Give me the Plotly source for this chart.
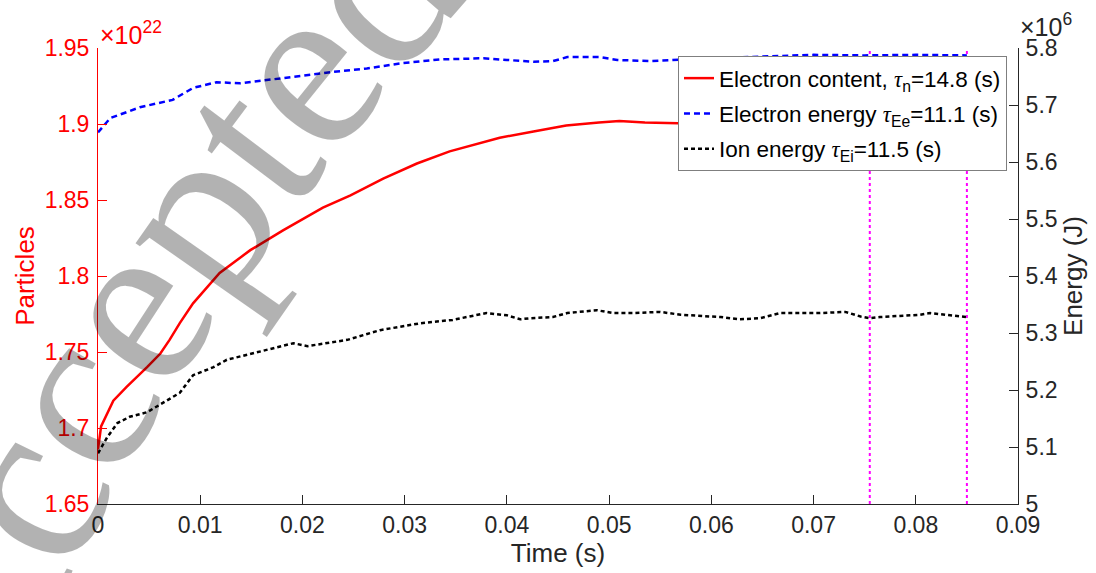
import math
import plotly.graph_objects as go

# ---- data ----
# Electron content (x1e22 particles)
t_ne = [0, 0.0003, 0.0015, 0.0028, 0.0048, 0.0061, 0.007, 0.008, 0.0093, 0.0113,
        0.0119, 0.0149, 0.0181, 0.022, 0.0247, 0.0279, 0.0312, 0.0344, 0.0361,
        0.0393, 0.0426, 0.0458, 0.049, 0.051, 0.0535, 0.0557, 0.06, 0.065, 0.07,
        0.075, 0.08, 0.085]
ne = [1.686, 1.701, 1.718, 1.727, 1.740, 1.749, 1.758, 1.769, 1.782, 1.797,
      1.802, 1.817, 1.830, 1.845, 1.853, 1.864, 1.874, 1.882, 1.885,
      1.891, 1.895, 1.899, 1.901, 1.902, 1.901, 1.9005, 1.900, 1.899, 1.899,
      1.898, 1.898, 1.898]

# Electron energy (x1e6 J)
t_we = [0, 0.0012, 0.0041, 0.0073, 0.0093, 0.0116, 0.0139, 0.0165, 0.0195,
        0.023, 0.0263, 0.0296, 0.0335, 0.0377, 0.04, 0.0426, 0.0445, 0.0459,
        0.0491, 0.0508, 0.054, 0.0563, 0.06, 0.065, 0.07, 0.075, 0.08, 0.085]
we = [5.652, 5.677, 5.696, 5.709, 5.730, 5.740, 5.738, 5.744, 5.751,
      5.758, 5.764, 5.773, 5.780, 5.782, 5.779, 5.776, 5.777, 5.784,
      5.784, 5.779, 5.777, 5.779, 5.782, 5.785, 5.788, 5.787, 5.788, 5.787]

# Ion energy (x1e6 J)
t_wi = [0, 0.0009, 0.0019, 0.0031, 0.0048, 0.0067, 0.008, 0.0093, 0.0113, 0.0126,
        0.0152, 0.0191, 0.0205, 0.023, 0.0244, 0.0276, 0.0315, 0.0347, 0.038,
        0.040, 0.0413, 0.0423, 0.0445, 0.0459, 0.0488, 0.0504, 0.0523, 0.055,
        0.057, 0.0609, 0.0628, 0.0648, 0.0667, 0.0706, 0.0731, 0.0746, 0.0755,
        0.0765, 0.0804, 0.0814, 0.0843, 0.085]
wi = [5.089, 5.117, 5.142, 5.153, 5.161, 5.182, 5.195, 5.226, 5.240, 5.253,
      5.265, 5.282, 5.277, 5.284, 5.288, 5.305, 5.317, 5.323, 5.335,
      5.331, 5.324, 5.326, 5.328, 5.335, 5.340, 5.335, 5.335, 5.337,
      5.332, 5.328, 5.324, 5.326, 5.335, 5.335, 5.337, 5.329, 5.326,
      5.328, 5.332, 5.335, 5.330, 5.328]

# analysis window markers
t_marks = [0.0755, 0.085]

TAU = '<span style="font-family:Liberation Serif"><i>τ</i></span>'
names = [
    'Electron content, ' + TAU + '<sub>n</sub>=14.8 (s)',
    'Electron energy ' + TAU + '<sub>Ee</sub>=11.1 (s)',
    'Ion energy ' + TAU + '<sub>Ei</sub>=11.5 (s)',
]

FONT = "Liberation Sans, Arial, sans-serif"
DARK = "#262626"
RED = "#ff0000"

fig = go.Figure()

fig.add_trace(go.Scatter(x=t_ne, y=ne, mode="lines", name=names[0],
                         line=dict(color=RED, width=2.5), yaxis="y",
                         legendgroup="a"))
fig.add_trace(go.Scatter(x=t_we, y=we, mode="lines", name=names[1],
                         line=dict(color="#0000ff", width=2.5, dash="6px,4px"),
                         yaxis="y2", legendgroup="b"))
fig.add_trace(go.Scatter(x=t_wi, y=wi, mode="lines", name=names[2],
                         line=dict(color="#000000", width=2.5, dash="4px,3px"),
                         yaxis="y2", legendgroup="c"))
for tm in t_marks:
    fig.add_trace(go.Scatter(x=[tm, tm], y=[1.65, 1.95], mode="lines",
                             line=dict(color="#ff00ff", width=2, dash="dot"),
                             yaxis="y", showlegend=False, hoverinfo="skip"))

L, R, T, B = 98, 78, 48, 69
W, H = 1096, 573
PW, PH = W - L - R, H - T - B

fig.update_layout(
    width=W, height=H,
    margin=dict(l=L, r=R, t=T, b=B, autoexpand=False),
    paper_bgcolor="white", plot_bgcolor="white",
    font=dict(family=FONT, size=23, color=DARK),
    xaxis=dict(range=[0, 0.09], dtick=0.01, tick0=0, ticks="inside", ticklen=9,
               tickcolor=DARK, showline=True, linecolor=DARK, linewidth=1,
               showgrid=False, zeroline=False, automargin=False,
               tickfont=dict(size=23, color=DARK),
               title=dict(text="Time (s)", font=dict(size=26, color=DARK), standoff=2)),
    yaxis=dict(range=[1.65, 1.95], dtick=0.05, tick0=1.65, ticks="inside", ticklen=9,
               tickcolor=RED, showline=True, linecolor=RED, linewidth=1,
               showgrid=False, zeroline=False, automargin=False,
               ticklabelstandoff=3,
               tickfont=dict(size=23, color=RED),
               title=dict(text="Particles", font=dict(size=26, color=RED), standoff=2)),
    yaxis2=dict(range=[5, 5.8], dtick=0.1, tick0=5, ticks="inside", ticklen=9,
                tickcolor=DARK, showline=True, linecolor=DARK, linewidth=1,
                showgrid=False, zeroline=False, overlaying="y", side="right",
                automargin=False, ticklabelstandoff=2,
                tickfont=dict(size=23, color=DARK),
                title=dict(text="Energy (J)", font=dict(size=26, color=DARK), standoff=6)),
    legend=dict(x=(678 - L) / PW, y=(H - B - 56) / PH, xanchor="left", yanchor="top",
                bgcolor="white", bordercolor="#7f7f7f", borderwidth=1,
                font=dict(family=FONT, size=22.5, color="#000000"),
                tracegroupgap=3),
    showlegend=True,
)

fig.add_annotation(text="×10<sup>22</sup>", xref="paper", yref="paper", x=0, y=1,
                   xanchor="left", yanchor="bottom", xshift=0, yshift=-3,
                   showarrow=False, font=dict(family=FONT, size=25, color=RED))
fig.add_annotation(text="×10<sup>6</sup>", xref="paper", yref="paper", x=1, y=1,
                   xanchor="left", yanchor="bottom", xshift=0, yshift=5,
                   showarrow=False, font=dict(family=FONT, size=25, color=DARK))

# ---- curved "Accepted" watermark (decoration), one letter per annotation ----
WM_LETTERS = "Accepted"
WM_WIDTHS = [0.722, 0.444, 0.444, 0.444, 0.5, 0.278, 0.444, 0.5]   # em advance
WM_ANGLES = [70, 64, 60, 57, 55, 53, 51, 49]                      # deg, ccw
WM_SIZE = 240
WM_ANCHOR = (55 - 33, 468 + 26)   # pixel centre of the first "c"
pos = [None] * len(WM_LETTERS)
pos[1] = WM_ANCHOR
for i in range(1, len(WM_LETTERS) - 1):
    a = math.radians((WM_ANGLES[i] + WM_ANGLES[i + 1]) / 2)
    d = (WM_WIDTHS[i] + WM_WIDTHS[i + 1]) / 2 * WM_SIZE
    pos[i + 1] = (pos[i][0] + d * math.cos(a), pos[i][1] - d * math.sin(a))
a = math.radians((WM_ANGLES[0] + WM_ANGLES[1]) / 2)
d = (WM_WIDTHS[0] + WM_WIDTHS[1]) / 2 * WM_SIZE
pos[0] = (pos[1][0] - d * math.cos(a), pos[1][1] + d * math.sin(a))

for ch, (px, py), ang in zip(WM_LETTERS, pos, WM_ANGLES):
    fig.add_annotation(text=ch, xref="paper", yref="paper",
                       x=(px - L) / PW, y=(H - B - py) / PH,
                       xanchor="center", yanchor="middle", textangle=-ang,
                       showarrow=False,
                       font=dict(family="Liberation Serif, Times New Roman, serif",
                                 size=WM_SIZE, color="rgba(0,0,0,0.3)"))

fig.write_html("out.html", config={"displayModeBar": False},
               post_script="document.body.style.margin='0';document.body.style.padding='0';")
